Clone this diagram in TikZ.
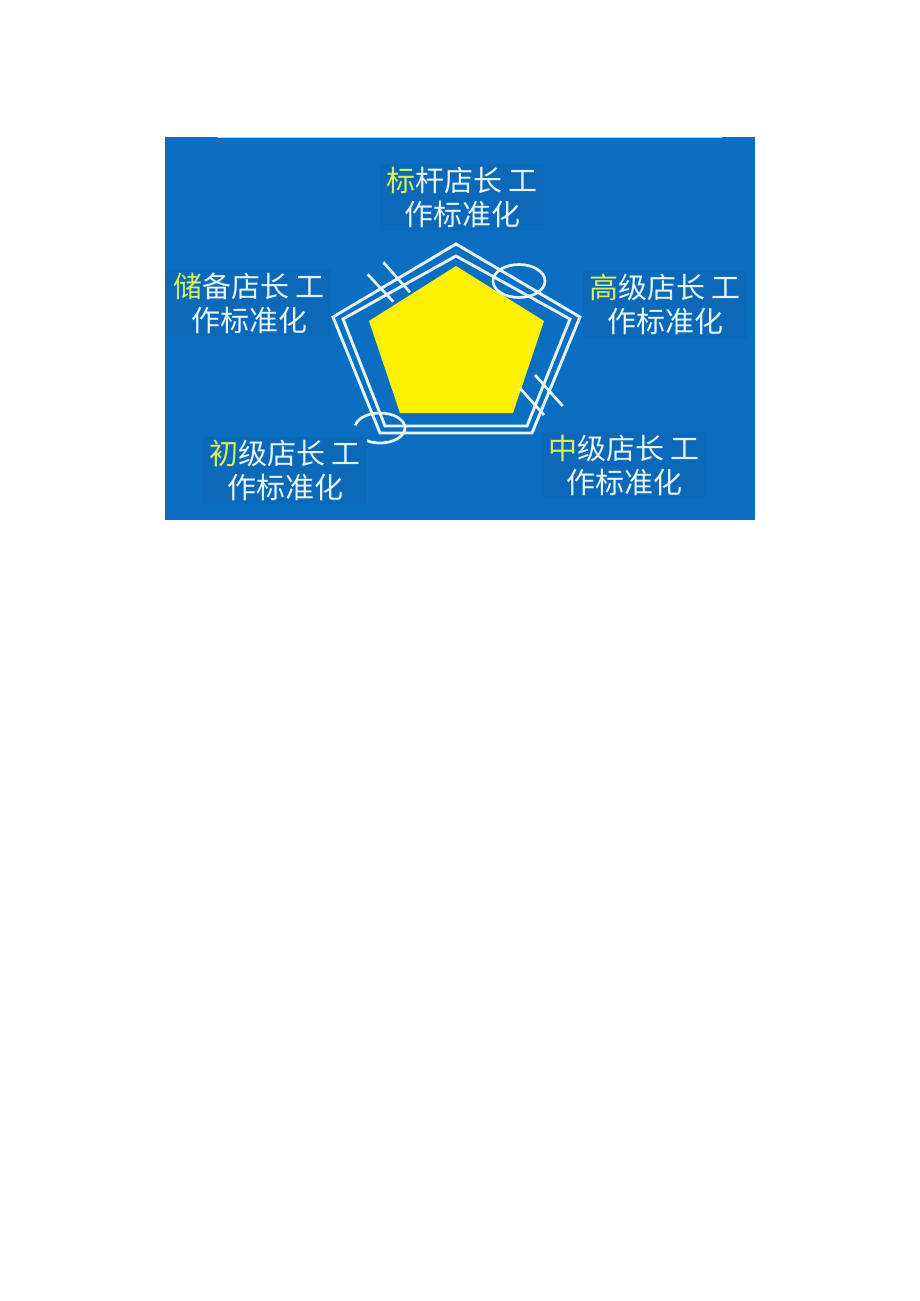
\documentclass[tikz,border=0pt]{standalone}
\usepackage{fontspec}
\newfontfamily\cjkfont{Noto Sans CJK SC}
\usetikzlibrary{positioning}
\definecolor{panelblue}{RGB}{11,110,192}
\definecolor{boxblue}{RGB}{12,105,185}
\definecolor{padyellow}{RGB}{255,242,0}
\definecolor{leadgreen}{RGB}{214,240,92}
\definecolor{rimwhite}{RGB}{230,246,255}
\tikzstyle{labelnode} = [fill=boxblue, text=rimwhite, align=center, font=\cjkfont\fontsize{29}{34}\selectfont, inner xsep=6pt, inner ysep=3pt]
\tikzstyle{rim} = [draw=rimwhite, line width=2.9pt, line join=miter]
\tikzstyle{tick} = [draw=rimwhite, line width=2.7pt]
\newcommand{\leadchar}[1]{\textcolor{leadgreen}{#1}}

\begin{document}
\begin{tikzpicture}[x=1pt, y=-1pt]
\useasboundingbox (0,0) rectangle (920,1301);
\fill[white] (0,0) rectangle (920,1301);
\fill[panelblue] (165,137) rectangle (755,520);
\draw[gray!45, line width=1.5pt] (217,137.5) -- (722,137.5);

% yellow core and the two white rims
\fill[padyellow] (456,266) -- (544,321) -- (513,413) -- (400,413) -- (369,321) -- cycle;
\draw[rim] (456,244) -- (580,317) -- (532,433) -- (380,433) -- (333,317) -- cycle;
\draw[rim] (456,256) -- (570,319) -- (527,426) -- (385,426) -- (343,319) -- cycle;

% marks on the rims
\draw[tick] (367.7,274.3) -- (393.3,301.7);
\draw[tick] (383.3,262.3) -- (410,292.3);
\draw[tick] (520,388.3) -- (544,415);
\draw[tick] (535,375) -- (562.7,406);
\draw[tick] (519,281) ellipse [x radius=26, y radius=16.5];
\draw[tick] (380,428) ++(-170:25 and 15) arc [start angle=-170, end angle=123, x radius=25, y radius=15];

% labels
\node[labelnode] (benchmark) at (462,197.5) {\leadchar{标}杆店长 工\\作标准化};
\node[labelnode] (reserve) at (249,303) {\leadchar{储}备店长 工\\作标准化};
\node[labelnode] (senior) at (665,304.5) {\leadchar{高}级店长 工\\作标准化};
\node[labelnode] (junior) at (285,470.5) {\leadchar{初}级店长 工\\作标准化};
\node[labelnode] (middle) at (624,465) {\leadchar{中}级店长 工\\作标准化};
\end{tikzpicture}
\end{document}
